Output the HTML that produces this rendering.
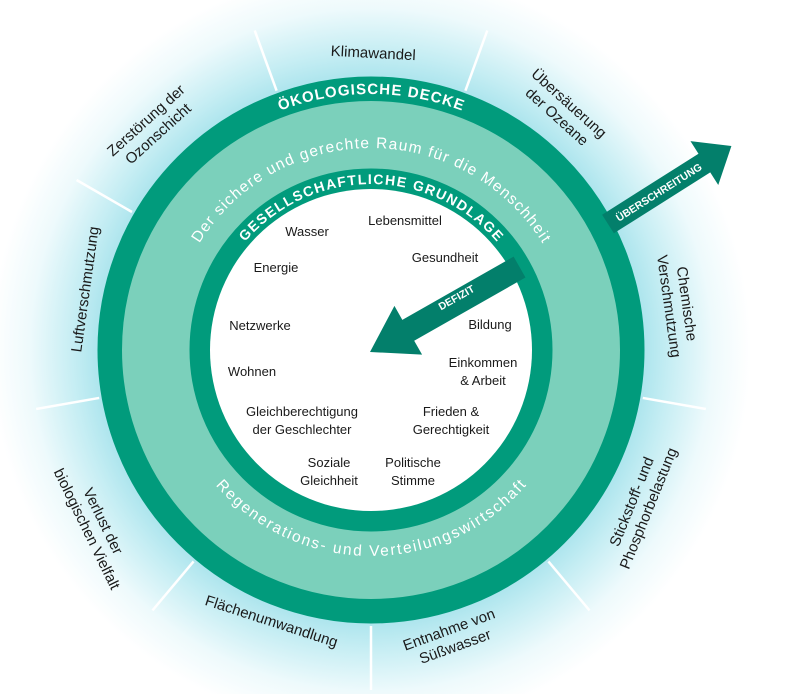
<!DOCTYPE html>
<html><head><meta charset="utf-8"><style>
html,body{margin:0;padding:0;background:#fff;width:794px;height:694px;overflow:hidden;}
svg{display:block;}
text{font-family:"Liberation Sans",sans-serif;}
.o{font-size:15px;fill:#1a1a1a;}
.i{font-size:13px;fill:#1a1a1a;}
</style></head><body>
<svg width="794" height="694" viewBox="0 0 794 694" xmlns="http://www.w3.org/2000/svg">
<defs>
<radialGradient id="g" cx="371" cy="350" r="380" gradientUnits="userSpaceOnUse">
<stop offset="0.68" stop-color="#9fe0ea"/>
<stop offset="0.78" stop-color="#c4edf3"/>
<stop offset="0.9" stop-color="#eefafc"/>
<stop offset="1" stop-color="#ffffff"/>
</radialGradient>
<path id="pOk" d="M 115 350 A 256 256 0 0 1 627 350"/>
<path id="pRaum" d="M 169 350 A 202 202 0 0 1 573 350"/>
<path id="pGes" d="M 205 350 A 166 166 0 0 1 537 350"/>
<path id="pReg" d="M 165 350 A 206 206 0 0 0 577 350"/>
</defs>
<rect width="794" height="694" fill="#fff"/>
<circle cx="371" cy="350" r="380" fill="url(#g)"/>
<g stroke="#ffffff" stroke-width="2.5">
<g transform="translate(371,350)">
<line x1="0" y1="-276" x2="0" y2="-340" transform="rotate(20)"/>
<line x1="0" y1="-276" x2="0" y2="-340" transform="rotate(60)"/>
<line x1="0" y1="-276" x2="0" y2="-340" transform="rotate(100)"/>
<line x1="0" y1="-276" x2="0" y2="-340" transform="rotate(140)"/>
<line x1="0" y1="-276" x2="0" y2="-340" transform="rotate(180)"/>
<line x1="0" y1="-276" x2="0" y2="-340" transform="rotate(220)"/>
<line x1="0" y1="-276" x2="0" y2="-340" transform="rotate(260)"/>
<line x1="0" y1="-276" x2="0" y2="-340" transform="rotate(300)"/>
<line x1="0" y1="-276" x2="0" y2="-340" transform="rotate(340)"/>
</g>
</g>
<circle cx="371" cy="350" r="261" fill="none" stroke="#019b7c" stroke-width="25"/>
<circle cx="371" cy="350" r="215" fill="none" stroke="#7bd0bb" stroke-width="68"/>
<circle cx="371" cy="350" r="171" fill="none" stroke="#019b7c" stroke-width="21"/>
<circle cx="371" cy="350" r="161" fill="#ffffff"/>
<text font-size="15" font-weight="bold" fill="#fff"><textPath href="#pOk" startOffset="50%" text-anchor="middle" textLength="186" lengthAdjust="spacing">ÖKOLOGISCHE DECKE</textPath></text>
<text font-size="15.5" fill="#fff"><textPath href="#pRaum" startOffset="50%" text-anchor="middle" textLength="410" lengthAdjust="spacing">Der sichere und gerechte Raum für die Menschheit</textPath></text>
<text font-size="14" font-weight="bold" fill="#fff"><textPath href="#pGes" startOffset="50%" text-anchor="middle" textLength="286" lengthAdjust="spacing">GESELLSCHAFTLICHE GRUNDLAGE</textPath></text>
<text font-size="15.5" fill="#fff"><textPath href="#pReg" startOffset="50%" text-anchor="middle" textLength="352" lengthAdjust="spacing">Regenerations- und Verteilungswirtschaft</textPath></text>
<g transform="translate(608,224) rotate(-32.3)">
<polygon points="0,-11 114,-11 114,-26 146,0 114,26 114,11 0,11" fill="#037f6b"/>
<text x="60" y="4" font-size="10.5" font-weight="bold" fill="#fff" text-anchor="middle">ÜBERSCHREITUNG</text>
</g>
<g transform="translate(370,352) rotate(-29.6)">
<polygon points="0,0 44,-28 44,-12 172,-12 172,12 44,12 44,28" fill="#037f6b"/>
<text x="102" y="-1" font-size="10.5" font-weight="bold" fill="#fff" text-anchor="middle">DEFIZIT</text>
</g>
<g class="i" text-anchor="middle">
<text class="i" x="307" y="236">Wasser</text>
<text class="i" x="405" y="225">Lebensmittel</text>
<text class="i" x="276" y="272">Energie</text>
<text class="i" x="445" y="262">Gesundheit</text>
<text class="i" x="260" y="330">Netzwerke</text>
<text class="i" x="490" y="329">Bildung</text>
<text class="i" x="252" y="376">Wohnen</text>
<text class="i" x="483" y="367">Einkommen</text>
<text class="i" x="483" y="385">&amp; Arbeit</text>
<text class="i" x="302" y="416">Gleichberechtigung</text>
<text class="i" x="302" y="434">der Geschlechter</text>
<text class="i" x="451" y="416">Frieden &amp;</text>
<text class="i" x="451" y="434">Gerechtigkeit</text>
<text class="i" x="329" y="467">Soziale</text>
<text class="i" x="329" y="485">Gleichheit</text>
<text class="i" x="413" y="467">Politische</text>
<text class="i" x="413" y="485">Stimme</text>
</g>
<g text-anchor="middle">
<text class="o" transform="translate(373,58) rotate(3)">Klimawandel</text>
<g transform="translate(563,110) rotate(42)">
<text class="o" x="0" y="-4">Übersäuerung</text>
<text class="o" x="0" y="14">der Ozeane</text>
</g>
<g transform="translate(678,305) rotate(82)">
<text class="o" x="0" y="-4">Chemische</text>
<text class="o" x="0" y="14">Verschmutzung</text>
</g>
<g transform="translate(640,505) rotate(-68)">
<text class="o" x="0" y="-4">Stickstoff- und</text>
<text class="o" x="0" y="14">Phosphorbelastung</text>
</g>
<g transform="translate(452,638) rotate(-20)">
<text class="o" x="0" y="-4">Entnahme von</text>
<text class="o" x="0" y="14">Süßwasser</text>
</g>
<text class="o" transform="translate(270,626) rotate(18)">Flächenumwandlung</text>
<g transform="translate(95,525) rotate(64)">
<text class="o" x="0" y="-4">Verlust der</text>
<text class="o" x="0" y="14">biologischen Vielfalt</text>
</g>
<text class="o" transform="translate(90,290) rotate(-82)">Luftverschmutzung</text>
<g transform="translate(152,127) rotate(-42)">
<text class="o" x="0" y="-4">Zerstörung der</text>
<text class="o" x="0" y="14">Ozonschicht</text>
</g>
</g>
</svg>
</body></html>
